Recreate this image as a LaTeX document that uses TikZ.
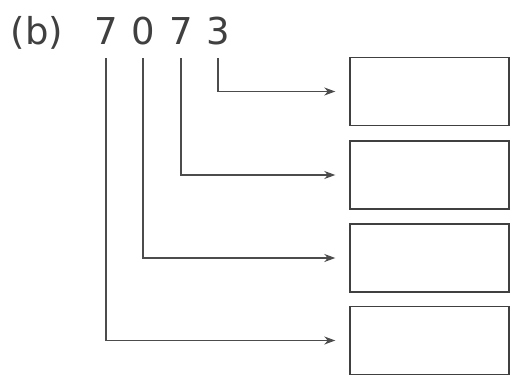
\documentclass[tikz,border=0pt]{standalone}
\usepackage{fontspec}
\setmainfont{DejaVu Sans}
\usetikzlibrary{arrows.meta}
\begin{document}
\begin{tikzpicture}[x=1pt,y=-1pt,
  lbl/.style={anchor=base,inner sep=0pt,text=black!75,font=\fontsize{37}{42}\selectfont},
  ansbox/.style={draw=black!75,line width=1.4pt,minimum width=159pt,minimum height=68pt,inner sep=0pt},
  conn/.style={draw=black!70,line width=1.3pt,-{Stealth[length=11pt,width=8pt,inset=3.5pt]}}]
\useasboundingbox (0,0) rectangle (515,375);
\node[lbl] (tag) at (37,44) {(b)};
\node[lbl] (d1) at (106,44) {7};
\node[lbl] (d2) at (143,44) {0};
\node[lbl] (d3) at (181,44) {7};
\node[lbl] (d4) at (218,44) {3};
\node[ansbox] (b1) at (429.5,91.5) {};
\node[ansbox] (b2) at (429.5,175) {};
\node[ansbox] (b3) at (429.5,258) {};
\node[ansbox] (b4) at (429.5,340.5) {};
\draw[conn] ([yshift=-14pt]d4.base) |- ([xshift=-14pt]b1.west);
\draw[conn] ([yshift=-14pt]d3.base) |- ([xshift=-14pt]b2.west);
\draw[conn] ([yshift=-14pt]d2.base) |- ([xshift=-14pt]b3.west);
\draw[conn] ([yshift=-14pt]d1.base) |- ([xshift=-14pt]b4.west);
\end{tikzpicture}
\end{document}
